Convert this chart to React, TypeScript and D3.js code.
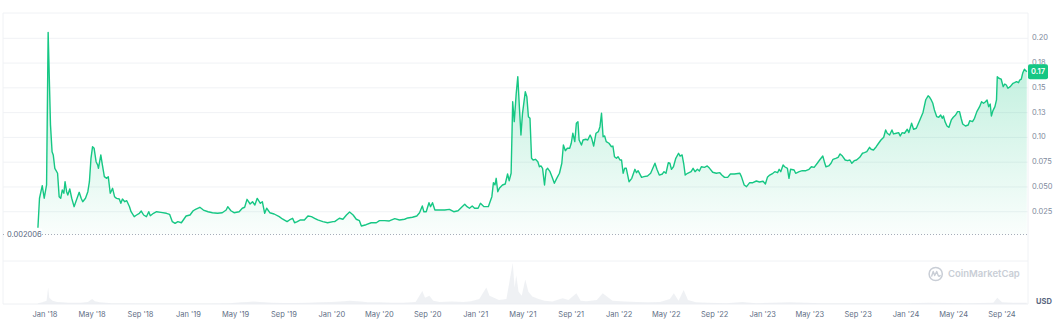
import React from "react";
import * as d3 from "d3";

const W = 1060;
const H = 326;

type P = [string, number];

const price2018: P[] = [
  ["2017-12-14", 0.0089], ["2017-12-18", 0.0386], ["2017-12-25", 0.0513], ["2017-12-30", 0.0386],
  ["2018-01-05", 0.052], ["2018-01-09", 0.206], ["2018-01-15", 0.1125], ["2018-01-19", 0.0856], ["2018-01-22", 0.0823], ["2018-01-26", 0.0688],
  ["2018-02-02", 0.0638], ["2018-02-06", 0.0402], ["2018-02-10", 0.0385], ["2018-02-14", 0.047], ["2018-02-18", 0.0436], ["2018-02-21", 0.0553], ["2018-02-25", 0.0452], ["2018-02-28", 0.0419],
  ["2018-03-05", 0.048], ["2018-03-10", 0.0386], ["2018-03-16", 0.0301], ["2018-03-22", 0.0368], ["2018-03-29", 0.0446],
  ["2018-04-03", 0.0386], ["2018-04-07", 0.0351], ["2018-04-14", 0.0386], ["2018-04-20", 0.0452], ["2018-04-24", 0.0553], ["2018-04-28", 0.0789],
  ["2018-05-02", 0.0906], ["2018-05-06", 0.089], ["2018-05-11", 0.0755], ["2018-05-15", 0.0722], ["2018-05-17", 0.0688], ["2018-05-23", 0.0823], ["2018-05-27", 0.0722],
  ["2018-06-01", 0.0604], ["2018-06-07", 0.0587], ["2018-06-11", 0.0604], ["2018-06-16", 0.0436], ["2018-06-22", 0.0486], ["2018-06-27", 0.0402],
  ["2018-07-02", 0.0385], ["2018-07-09", 0.0378], ["2018-07-13", 0.0335], ["2018-07-17", 0.0378], ["2018-07-23", 0.0351], ["2018-07-28", 0.0361],
  ["2018-08-04", 0.0301], ["2018-08-08", 0.025], ["2018-08-16", 0.02], ["2018-08-22", 0.0217], ["2018-08-29", 0.0234],
  ["2018-09-03", 0.0257], ["2018-09-09", 0.0217], ["2018-09-16", 0.02], ["2018-09-22", 0.025], ["2018-09-26", 0.021],
  ["2018-10-04", 0.0234], ["2018-10-12", 0.025], ["2018-10-23", 0.0244],
  ["2018-11-06", 0.0234], ["2018-11-14", 0.0224], ["2018-11-21", 0.015], ["2018-11-28", 0.0133],
  ["2018-12-05", 0.015], ["2018-12-14", 0.0139], ["2018-12-26", 0.0207],
];

const price2019: P[] = [
  ["2019-01-05", 0.0217], ["2019-01-13", 0.026], ["2019-01-19", 0.0274], ["2019-01-30", 0.0295], ["2019-02-08", 0.0267], ["2019-02-20", 0.025],
  ["2019-03-03", 0.024], ["2019-03-16", 0.0234], ["2019-03-28", 0.024], ["2019-04-07", 0.0267], ["2019-04-11", 0.0301], ["2019-04-19", 0.026],
  ["2019-04-27", 0.024], ["2019-05-10", 0.025], ["2019-05-18", 0.0285], ["2019-05-24", 0.0295], ["2019-05-30", 0.0375], ["2019-06-07", 0.0328],
  ["2019-06-13", 0.0351], ["2019-06-19", 0.0318], ["2019-06-25", 0.0385], ["2019-07-03", 0.0335], ["2019-07-08", 0.0351], ["2019-07-14", 0.0234],
  ["2019-07-19", 0.0285], ["2019-07-27", 0.024], ["2019-08-07", 0.0227], ["2019-08-20", 0.02], ["2019-08-28", 0.0177], ["2019-09-09", 0.015],
  ["2019-09-15", 0.0167], ["2019-09-23", 0.0184], ["2019-09-28", 0.0139], ["2019-10-05", 0.015], ["2019-10-13", 0.0167], ["2019-10-23", 0.0167],
  ["2019-11-01", 0.0207], ["2019-11-10", 0.02], ["2019-11-18", 0.0184], ["2019-11-26", 0.0167], ["2019-12-09", 0.015], ["2019-12-21", 0.0139],
];

const price2020: P[] = [
  ["2020-01-04", 0.015], ["2020-01-08", 0.015], ["2020-01-20", 0.0184], ["2020-01-29", 0.0174], ["2020-02-07", 0.0217], ["2020-02-15", 0.0247],
  ["2020-02-24", 0.0217], ["2020-03-03", 0.0174], ["2020-03-11", 0.016], ["2020-03-16", 0.0106], ["2020-03-28", 0.0119], ["2020-04-10", 0.0139],
  ["2020-04-23", 0.0139], ["2020-05-01", 0.016], ["2020-05-14", 0.016], ["2020-05-26", 0.0157], ["2020-06-09", 0.018], ["2020-06-21", 0.0167],
  ["2020-07-04", 0.0174], ["2020-07-12", 0.0187], ["2020-07-24", 0.0194], ["2020-08-04", 0.0207], ["2020-08-11", 0.024], ["2020-08-18", 0.0308],
  ["2020-08-22", 0.025], ["2020-08-28", 0.025], ["2020-09-04", 0.0341], ["2020-09-08", 0.0301], ["2020-09-13", 0.0341], ["2020-09-19", 0.0267],
  ["2020-10-01", 0.0267], ["2020-10-14", 0.0267], ["2020-10-26", 0.0274], ["2020-11-06", 0.025], ["2020-11-17", 0.026], ["2020-11-26", 0.0295],
  ["2020-12-04", 0.0325], ["2020-12-10", 0.0301], ["2020-12-16", 0.0285], ["2020-12-23", 0.0308], ["2020-12-29", 0.0285],
];

const price2021: P[] = [
  ["2021-01-07", 0.0285], ["2021-01-13", 0.0335], ["2021-01-22", 0.0301], ["2021-02-02", 0.0301], ["2021-02-11", 0.0402], ["2021-02-15", 0.0543],
  ["2021-02-19", 0.052], ["2021-02-22", 0.0587], ["2021-02-26", 0.0452], ["2021-03-02", 0.0486], ["2021-03-10", 0.052], ["2021-03-17", 0.053],
  ["2021-03-23", 0.0631], ["2021-03-27", 0.0563], ["2021-04-01", 0.0638], ["2021-04-05", 0.136], ["2021-04-09", 0.1159], ["2021-04-14", 0.1445],
  ["2021-04-18", 0.1613], ["2021-04-22", 0.131], ["2021-04-26", 0.1024], ["2021-04-30", 0.1243], ["2021-05-07", 0.1461], ["2021-05-11", 0.1411],
  ["2021-05-15", 0.1209], ["2021-05-19", 0.1193], ["2021-05-23", 0.0789], ["2021-05-27", 0.0772], ["2021-06-02", 0.0779], ["2021-06-08", 0.0755],
  ["2021-06-12", 0.0704], ["2021-06-16", 0.0712], ["2021-06-20", 0.0688], ["2021-06-25", 0.052], ["2021-06-29", 0.0671], ["2021-07-03", 0.0688],
  ["2021-07-09", 0.0654], ["2021-07-14", 0.0604], ["2021-07-20", 0.0537], ["2021-07-26", 0.0587], ["2021-08-02", 0.0638], ["2021-08-08", 0.0739],
  ["2021-08-12", 0.0923], ["2021-08-17", 0.0866], ["2021-08-22", 0.089], ["2021-08-28", 0.089], ["2021-09-01", 0.0941], ["2021-09-05", 0.1042],
  ["2021-09-10", 0.0957], ["2021-09-14", 0.1143], ["2021-09-18", 0.1159], ["2021-09-21", 0.0974], ["2021-09-27", 0.0923], ["2021-10-01", 0.0974],
  ["2021-10-08", 0.0981], ["2021-10-13", 0.0974], ["2021-10-19", 0.1024], ["2021-10-23", 0.099], ["2021-10-28", 0.0913], ["2021-11-03", 0.1042],
  ["2021-11-09", 0.1058], ["2021-11-13", 0.1108], ["2021-11-17", 0.1243], ["2021-11-21", 0.1007], ["2021-11-25", 0.1014], ["2021-11-29", 0.0957],
  ["2021-12-06", 0.0941], ["2021-12-12", 0.0906], ["2021-12-16", 0.0913], ["2021-12-20", 0.0805], ["2021-12-25", 0.0789], ["2021-12-29", 0.0805],
];

const price2022: P[] = [
  ["2022-01-03", 0.0772], ["2022-01-07", 0.0772], ["2022-01-11", 0.0638], ["2022-01-15", 0.069], ["2022-01-19", 0.0688], ["2022-01-26", 0.0553],
  ["2022-02-02", 0.0587], ["2022-02-10", 0.0678], ["2022-02-14", 0.0644], ["2022-02-18", 0.0664], ["2022-02-27", 0.0597], ["2022-03-05", 0.0604],
  ["2022-03-14", 0.0611], ["2022-03-22", 0.0638], ["2022-04-02", 0.0739], ["2022-04-07", 0.0678], ["2022-04-13", 0.062], ["2022-04-21", 0.0631],
  ["2022-04-25", 0.0654], ["2022-04-30", 0.0638], ["2022-05-06", 0.0745], ["2022-05-10", 0.0739], ["2022-05-14", 0.0678], ["2022-05-19", 0.0704],
  ["2022-05-25", 0.0789], ["2022-06-01", 0.084], ["2022-06-05", 0.0812], ["2022-06-10", 0.0823], ["2022-06-14", 0.0739], ["2022-06-18", 0.062],
  ["2022-06-24", 0.0638], ["2022-07-03", 0.0654], ["2022-07-08", 0.0688], ["2022-07-13", 0.0654], ["2022-07-19", 0.0678], ["2022-07-24", 0.0661],
  ["2022-07-29", 0.0704], ["2022-08-06", 0.0698], ["2022-08-13", 0.0712], ["2022-08-19", 0.0688], ["2022-08-27", 0.0648], ["2022-09-05", 0.0638],
  ["2022-09-14", 0.0644], ["2022-09-19", 0.062], ["2022-09-26", 0.0597], ["2022-10-04", 0.0597], ["2022-10-11", 0.0631], ["2022-10-21", 0.0631],
  ["2022-11-04", 0.0638], ["2022-11-08", 0.0604], ["2022-11-15", 0.052], ["2022-11-21", 0.0503], ["2022-11-29", 0.0543], ["2022-12-07", 0.0543],
  ["2022-12-16", 0.056], ["2022-12-24", 0.055],
];

const price2023: P[] = [
  ["2023-01-02", 0.0557], ["2023-01-08", 0.053], ["2023-01-13", 0.0597], ["2023-01-19", 0.062], ["2023-01-27", 0.0638], ["2023-02-01", 0.0654],
  ["2023-02-08", 0.0644], ["2023-02-12", 0.0678], ["2023-02-16", 0.0654], ["2023-02-22", 0.0722], ["2023-02-26", 0.0704], ["2023-03-05", 0.0688],
  ["2023-03-09", 0.0587], ["2023-03-13", 0.0678], ["2023-03-22", 0.0671], ["2023-03-26", 0.0638], ["2023-04-04", 0.0654], ["2023-04-12", 0.0664],
  ["2023-04-21", 0.0664], ["2023-04-29", 0.0678], ["2023-05-05", 0.0704], ["2023-05-12", 0.0698], ["2023-05-20", 0.0739], ["2023-05-26", 0.0772],
  ["2023-06-03", 0.0812], ["2023-06-07", 0.0755], ["2023-06-11", 0.0704], ["2023-06-18", 0.0712], ["2023-06-24", 0.0739], ["2023-06-29", 0.0779],
  ["2023-07-06", 0.0789], ["2023-07-12", 0.0799], ["2023-07-17", 0.0833], ["2023-07-23", 0.0812], ["2023-07-30", 0.0772], ["2023-08-05", 0.0765],
  ["2023-08-11", 0.0772], ["2023-08-16", 0.0739], ["2023-08-22", 0.0765], ["2023-08-28", 0.0772], ["2023-09-05", 0.0799], ["2023-09-12", 0.084],
  ["2023-09-17", 0.0846], ["2023-09-23", 0.0856], ["2023-09-30", 0.09], ["2023-10-04", 0.088], ["2023-10-10", 0.0873], ["2023-10-17", 0.0906],
  ["2023-10-23", 0.0941], ["2023-10-29", 0.0974], ["2023-11-05", 0.1001], ["2023-11-10", 0.1075], ["2023-11-14", 0.1042], ["2023-11-20", 0.1024],
  ["2023-11-26", 0.1075], ["2023-11-30", 0.1035], ["2023-12-07", 0.1042], ["2023-12-13", 0.1048], ["2023-12-17", 0.1014], ["2023-12-22", 0.1048],
  ["2023-12-28", 0.1042],
];

const price2024: P[] = [
  ["2024-01-04", 0.1082], ["2024-01-08", 0.1048], ["2024-01-15", 0.1143], ["2024-01-20", 0.1082], ["2024-01-27", 0.1092], ["2024-02-05", 0.1176],
  ["2024-02-13", 0.1252], ["2024-02-20", 0.138], ["2024-02-26", 0.142], ["2024-03-01", 0.1404], ["2024-03-05", 0.1378], ["2024-03-09", 0.1344],
  ["2024-03-13", 0.1277], ["2024-03-19", 0.1209], ["2024-03-24", 0.1203], ["2024-03-29", 0.1226], ["2024-04-02", 0.1193], ["2024-04-05", 0.1216],
  ["2024-04-09", 0.1159], ["2024-04-14", 0.1115], ["2024-04-19", 0.1102], ["2024-04-25", 0.1176], ["2024-04-30", 0.1203], ["2024-05-06", 0.1226],
  ["2024-05-11", 0.126], ["2024-05-16", 0.126], ["2024-05-20", 0.1193], ["2024-05-24", 0.1135], ["2024-05-31", 0.1115], ["2024-06-07", 0.1125],
  ["2024-06-11", 0.1169], ["2024-06-18", 0.1159], ["2024-06-23", 0.1193], ["2024-06-29", 0.126], ["2024-07-06", 0.131], ["2024-07-11", 0.136],
  ["2024-07-16", 0.1344], ["2024-07-21", 0.136], ["2024-07-25", 0.1378], ["2024-07-29", 0.131], ["2024-08-02", 0.1337], ["2024-08-05", 0.1216],
  ["2024-08-09", 0.127], ["2024-08-14", 0.131], ["2024-08-18", 0.1378], ["2024-08-20", 0.1613], ["2024-08-24", 0.1597], ["2024-08-30", 0.1587],
  ["2024-09-04", 0.1512], ["2024-09-08", 0.1539], ["2024-09-12", 0.1529], ["2024-09-16", 0.1496], ["2024-09-22", 0.1512], ["2024-09-29", 0.1546],
  ["2024-10-03", 0.1552], ["2024-10-08", 0.1562], ["2024-10-13", 0.1552], ["2024-10-16", 0.1579], ["2024-10-20", 0.1587], ["2024-10-24", 0.1653],
  ["2024-10-28", 0.1688], ["2024-11-03", 0.1663],
];

const volumeData: P[] = [
  ["2017-12-14", 2], ["2017-12-25", 4], ["2018-01-05", 8], ["2018-01-09", 40], ["2018-01-12", 15], ["2018-01-20", 8],
  ["2018-02-01", 5], ["2018-02-15", 4], ["2018-03-01", 3], ["2018-03-15", 3], ["2018-04-01", 3], ["2018-04-20", 5],
  ["2018-05-01", 12], ["2018-05-08", 7], ["2018-05-20", 4], ["2018-06-05", 3], ["2018-06-20", 2], ["2018-07-20", 2],
  ["2018-09-01", 1.5], ["2018-12-01", 1.5], ["2019-03-01", 1.5], ["2019-04-15", 2], ["2019-05-01", 3], ["2019-05-15", 4],
  ["2019-06-01", 5], ["2019-06-15", 6], ["2019-07-01", 5], ["2019-07-15", 4], ["2019-08-01", 3], ["2019-09-01", 2.5],
  ["2019-10-01", 2.5], ["2019-11-01", 3], ["2019-12-01", 4], ["2020-01-01", 5], ["2020-02-01", 7], ["2020-02-15", 8],
  ["2020-03-15", 6], ["2020-04-01", 4], ["2020-05-01", 4], ["2020-06-01", 3], ["2020-07-01", 3], ["2020-08-01", 5],
  ["2020-08-18", 32], ["2020-08-25", 15], ["2020-09-05", 20], ["2020-09-15", 8], ["2020-10-01", 5], ["2020-11-01", 6],
  ["2020-12-01", 5], ["2020-12-20", 7], ["2021-01-10", 12], ["2021-01-28", 40], ["2021-02-05", 20], ["2021-02-15", 16],
  ["2021-03-01", 10], ["2021-03-20", 12], ["2021-04-05", 100], ["2021-04-10", 40], ["2021-04-14", 70], ["2021-04-20", 30],
  ["2021-04-28", 20], ["2021-05-07", 60], ["2021-05-15", 30], ["2021-05-25", 18], ["2021-06-10", 12], ["2021-06-25", 8],
  ["2021-07-15", 6], ["2021-08-10", 14], ["2021-08-25", 10], ["2021-09-14", 26], ["2021-09-25", 8], ["2021-10-10", 7],
  ["2021-11-05", 10], ["2021-11-20", 26], ["2021-12-15", 8], ["2022-01-15", 6], ["2022-02-15", 5], ["2022-03-15", 4],
  ["2022-04-15", 5], ["2022-05-10", 12], ["2022-05-20", 26], ["2022-06-01", 8], ["2022-06-14", 34], ["2022-06-25", 10],
  ["2022-07-15", 4], ["2022-08-15", 3], ["2022-10-01", 2], ["2022-11-10", 5], ["2022-12-15", 2], ["2023-03-10", 4],
  ["2023-06-01", 2], ["2023-10-01", 2], ["2024-01-01", 2], ["2024-03-01", 3], ["2024-06-01", 2], ["2024-08-10", 3],
  ["2024-08-20", 15], ["2024-09-01", 4], ["2024-10-01", 3], ["2024-11-03", 3],
];

const yTickValues = [0.025, 0.05, 0.075, 0.1, 0.125, 0.15, 0.175, 0.2];
const yTickLabels = ["0.025", "0.050", "0.075", "0.10", "0.13", "0.15", "0.18", "0.20"];
const xTickDates = [
  "2018-01-01", "2018-05-01", "2018-09-01", "2019-01-01", "2019-05-01", "2019-09-01", "2020-01-01",
  "2020-05-01", "2020-09-01", "2021-01-01", "2021-05-01", "2021-09-01", "2022-01-01", "2022-05-01",
  "2022-09-01", "2023-01-01", "2023-05-01", "2023-09-01", "2024-01-01", "2024-05-01", "2024-09-01",
];
const minPrice = 0.002006;
const minPriceLabel = "0.002006";
const currentPriceLabel = "0.17";

const parse = d3.utcParse("%Y-%m-%d");
const fmt = d3.utcFormat("%b '%y");

export default function App() {
  const price = [...price2018, ...price2019, ...price2020, ...price2021, ...price2022, ...price2023, ...price2024].map(
    ([d, v]) => ({ date: parse(d) as Date, value: v })
  );
  const vol = volumeData.map(([d, v]) => ({ date: parse(d) as Date, value: v }));

  const left = 3;
  const right = 1028;
  const top = 13;
  const bottom = 304;
  const volTop = 261;

  const x = d3.scaleUtc().domain([parse("2018-01-01") as Date, parse("2024-09-01") as Date]).range([45, 1002]);
  const y = d3.scaleLinear().domain([0, 0.2]).range([236.5, 38.3]);
  const yv = d3.scaleLinear().domain([0, 100]).range([bottom, 263]);

  const baseY = y(minPrice);
  const line = d3.line<{ date: Date; value: number }>().x((d) => x(d.date)).y((d) => y(d.value));
  const area = d3
    .area<{ date: Date; value: number }>()
    .x((d) => x(d.date))
    .y0(baseY)
    .y1((d) => y(d.value));
  const volArea = d3
    .area<{ date: Date; value: number }>()
    .x((d) => x(d.date))
    .y0(bottom)
    .y1((d) => yv(d.value));

  const last = price[price.length - 1];
  const font = "Inter, 'Noto Sans', sans-serif";
  const grid = "#f0f2f5";

  return (
    <svg
      width={W}
      height={H}
      style={{ position: "absolute", left: 0, top: 0, background: "#fff" }}
      fontFamily={font}
    >
      <defs>
        <linearGradient id="areaGrad" gradientUnits="userSpaceOnUse" x1={0} y1={y(0.2)} x2={0} y2={baseY}>
          <stop offset="0%" stopColor="#16c784" stopOpacity={0.3} />
          <stop offset="100%" stopColor="#16c784" stopOpacity={0.02} />
        </linearGradient>
      </defs>

      {/* frame & grid */}
      <line x1={left} x2={right} y1={top} y2={top} stroke={grid} />
      <line x1={left} x2={left} y1={top} y2={bottom} stroke={grid} />
      <line x1={right} x2={right} y1={top} y2={bottom} stroke={grid} />
      {yTickValues.map((v) => (
        <line key={v} x1={left} x2={right} y1={y(v)} y2={y(v)} stroke={grid} />
      ))}
      <line x1={left} x2={right} y1={volTop} y2={volTop} stroke={grid} />
      <line x1={left} x2={right} y1={bottom} y2={bottom} stroke="#eef0f3" />

      {/* volume */}
      <path d={volArea(vol) || ""} fill="#e9ecf0" opacity={0.75} />

      {/* watermark */}
      <g transform="translate(935.7,274)">
        <circle r={6.6} fill="none" stroke="#c9ced6" strokeWidth={1.5} />
        <path d="M-4,2 L-2.5,-2.5 L-1,1.5 L1,-2.5 L2.5,1.5 Q3.5,3 4.5,1.5" fill="none" stroke="#c9ced6" strokeWidth={1.4} strokeLinejoin="round" strokeLinecap="round" />
      </g>
      <text x={948} y={274} dominantBaseline="middle" fontSize={9.5} fontWeight={600} fill="#c9ced6">
        CoinMarketCap
      </text>

      {/* price */}
      <path d={area(price) || ""} fill="url(#areaGrad)" />
      <path d={line(price) || ""} fill="none" stroke="#16c784" strokeWidth={1.4} strokeLinejoin="round" />

      {/* min price dotted line */}
      <line x1={left} x2={right} y1={baseY} y2={baseY} stroke="#a6adb9" strokeDasharray="1 2" />
      <rect x={5} y={baseY - 6} width={37} height={12} fill="#fff" />
      <text x={7} y={baseY} dominantBaseline="middle" fontSize={7.5} fill="#58667e">
        {minPriceLabel}
      </text>

      {/* y labels */}
      {yTickValues.map((v, i) => (
        <text key={v} x={1032} y={y(v)} dominantBaseline="middle" fontSize={7.5} fill="#808a9d">
          {yTickLabels[i]}
        </text>
      ))}
      <text x={1036} y={302} dominantBaseline="middle" fontSize={7.5} fontWeight={700} fill="#58667e">
        USD
      </text>

      {/* current price tag */}
      <rect x={right} y={y(last.value) - 7.5} width={20} height={15} rx={2} fill="#16c784" />
      <text x={right + 10} y={y(last.value)} textAnchor="middle" dominantBaseline="middle" fontSize={7.5} fontWeight={600} fill="#fff">
        {currentPriceLabel}
      </text>

      {/* x labels */}
      {xTickDates.map((d) => {
        const dt = parse(d) as Date;
        return (
          <text key={d} x={x(dt)} y={315} textAnchor="middle" dominantBaseline="middle" fontSize={7.5} fill="#616e85">
            {fmt(dt)}
          </text>
        );
      })}
    </svg>
  );
}
